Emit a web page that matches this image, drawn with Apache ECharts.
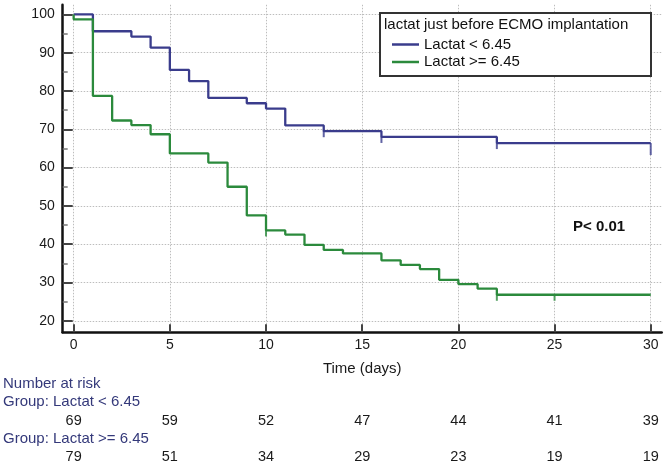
<!DOCTYPE html>
<html><head><meta charset="utf-8">
<script src="https://cdn.jsdelivr.net/npm/echarts@6/dist/echarts.min.js"></script>
<style>html,body{margin:0;padding:0;background:#fff}#c{width:666px;height:466px}</style>
</head><body><div id="c"></div>
<script>
// ---- data ----
const seriesNames = ['Lactat < 6.45', 'Lactat >= 6.45'];
const legendTitle = 'lactat just before ECMO implantation';
const blueTimes = [0, 1, 3, 4, 5, 6, 7, 9, 10, 11, 13, 16, 22, 30];
const blueSurv  = [100, 95.6, 94.2, 91.3, 85.5, 82.6, 78.2, 76.8, 75.4, 71.0, 69.5, 68.0, 66.4, 66.4];
const greenTimes = [0, 0, 1, 2, 3, 4, 5, 7, 8, 9, 10, 11, 12, 13, 14, 16, 17, 18, 19, 20, 21, 22, 30];
const greenSurv  = [100, 98.7, 78.7, 72.3, 71.1, 68.7, 63.7, 61.3, 55.0, 47.5, 43.6, 42.5, 39.8, 38.5, 37.6, 35.8, 34.6, 33.5, 30.7, 29.6, 28.4, 26.8, 26.8];
const blueCensorT = [13, 16, 22, 30];
const blueCensorS = [69.5, 68.0, 66.4, 66.4];
const greenCensorT = [10, 22, 25];
const greenCensorS = [43.6, 26.8, 26.8];
const xTicks = [0, 5, 10, 15, 20, 25, 30];
const yTicks = [20, 30, 40, 50, 60, 70, 80, 90, 100];
const yMinorTicks = [25, 35, 45, 55, 65, 75, 85, 95];
const riskTimes = [0, 5, 10, 15, 20, 25, 30];
const riskBlue  = [69, 59, 52, 47, 44, 41, 39];
const riskGreen = [79, 51, 34, 29, 23, 19, 19];
const pText = 'P< 0.01';

const BLUE = '#3a3c8c', GREEN = '#2b8a3c', NAVY = '#34397a';
const FONT = '"Liberation Sans", Arial, sans-serif';

const pairs = (t, s) => t.map((v, i) => [v, s[i]]);
const censorData = (t, s) => t.map((v, i) => ({value: [v, s[i]], symbolSize: [2, v === 30 && s[i] > 50 ? 12 : 6], symbolOffset: [0, v === 30 && s[i] > 50 ? 6 : 3]}));

const chart = echarts.init(document.getElementById('c'), null, {renderer: 'canvas'});
chart.setOption({
  animation: false,
  backgroundColor: '#fff',
  grid: {left: 62.7, right: 4.3, top: 4.8, bottom: 466 - 332.3},
  legend: {
    data: seriesNames, orient: 'vertical', left: 387, top: 32,
    icon: 'rect', itemWidth: 27, itemHeight: 2.5, itemGap: 2.5,
    textStyle: {fontFamily: FONT, fontSize: 15, color: '#111', lineHeight: 15},
    selectedMode: false, z: 20
  },
  xAxis: {
    type: 'value', min: -0.57, max: 30.57,
    name: 'Time (days)', nameLocation: 'middle', nameGap: 29,
    nameTextStyle: {fontFamily: FONT, fontSize: 15, color: '#1a1a1a'},
    axisLine: {onZero: false, lineStyle: {color: '#111', width: 2.5}},
    axisTick: {inside: true, length: 8, customValues: xTicks, lineStyle: {color: '#444', width: 2}},
    axisLabel: {customValues: xTicks, margin: 6, fontFamily: FONT, fontSize: 14, color: '#1a1a1a'},
    splitLine: {show: true, lineStyle: {color: '#bdbdbd', width: 1, type: [1.5, 1.5]}}
  },
  yAxis: [{
    type: 'value', min: 17, max: 102.5,
    axisLine: {show: true, onZero: false, lineStyle: {color: '#111', width: 2.5}},
    axisTick: {inside: true, length: 10, customValues: yTicks, lineStyle: {color: '#444', width: 2}},
    axisLabel: {customValues: yTicks, margin: 8, fontFamily: FONT, fontSize: 14, color: '#1a1a1a'},
    splitLine: {show: true, lineStyle: {color: '#bdbdbd', width: 1, type: [1.5, 1.5]}}
  }, {
    type: 'value', min: 17, max: 102.5, position: 'left', offset: 0,
    axisLine: {show: false, onZero: false},
    axisTick: {show: true, inside: true, length: 5, customValues: yMinorTicks, lineStyle: {color: '#777', width: 1.5}},
    axisLabel: {show: false},
    splitLine: {show: false}
  }],
  series: [
    {name: seriesNames[0], type: 'line', step: 'end', data: pairs(blueTimes, blueSurv), showSymbol: false, silent: true,
     color: BLUE, lineStyle: {color: BLUE, width: 2.3}, z: 3},
    {name: seriesNames[1], type: 'line', step: 'end', data: pairs(greenTimes, greenSurv), showSymbol: false, silent: true,
     color: GREEN, lineStyle: {color: GREEN, width: 2.3}, z: 3},
    {type: 'scatter', data: censorData(blueCensorT, blueCensorS), symbol: 'path://M0 0H1V1H0Z', itemStyle: {color: BLUE}, silent: true, z: 4},
    {type: 'scatter', data: censorData(greenCensorT, greenCensorS), symbol: 'path://M0 0H1V1H0Z', itemStyle: {color: GREEN}, silent: true, z: 4}
  ]
});

// ---- overlay: legend box, p-value, number at risk ----
const g = [];
g.push({type: 'rect', shape: {x: 380, y: 13, width: 271, height: 63}, style: {fill: '#fff', stroke: '#333', lineWidth: 2}, z: 10});
g.push({type: 'text', x: 384, y: 25, style: {text: legendTitle, fontFamily: FONT, fontSize: 15, fill: '#111', verticalAlign: 'middle'}, z: 11});
g.push({type: 'text', x: 573, y: 227, style: {text: pText, fontFamily: FONT, fontSize: 15, fontWeight: 'bold', fill: '#111', verticalAlign: 'middle'}, z: 11});
const leftText = (txt, y, color) => ({type: 'text', x: 3, y: y, style: {text: txt, fontFamily: FONT, fontSize: 15, fill: color, verticalAlign: 'middle'}});
g.push(leftText('Number at risk', 384, NAVY));
g.push(leftText('Group: ' + seriesNames[0], 402.3, NAVY));
g.push(leftText('Group: ' + seriesNames[1], 439, NAVY));
riskTimes.forEach((t, i) => {
  const px = chart.convertToPixel({xAxisIndex: 0, yAxisIndex: 0}, [t, 50])[0];
  g.push({type: 'text', x: px, y: 421, style: {text: String(riskBlue[i]), fontFamily: FONT, fontSize: 14.5, fill: '#1a1a1a', align: 'center', verticalAlign: 'middle'}});
  g.push({type: 'text', x: px, y: 457.3, style: {text: String(riskGreen[i]), fontFamily: FONT, fontSize: 14.5, fill: '#1a1a1a', align: 'center', verticalAlign: 'middle'}});
});
chart.setOption({graphic: g});
</script>
</body></html>
